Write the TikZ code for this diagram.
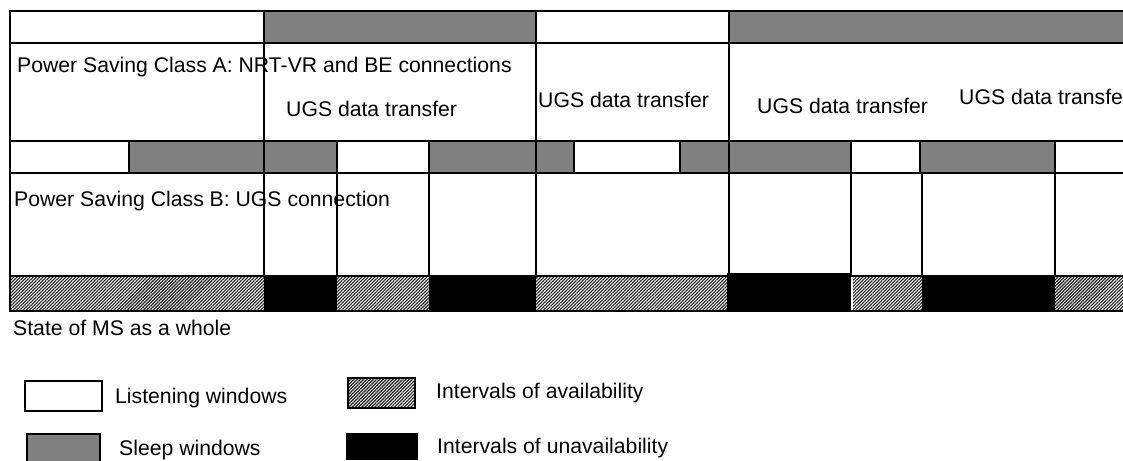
\documentclass[tikz,border=0pt]{standalone}
\usepackage{fontspec}
\setmainfont{Liberation Sans}
\usetikzlibrary{patterns.meta}
\tikzset{
  frame/.style={line width=2.4pt},
  sleepfill/.style={fill=black!50},
  hatchfill/.style={pattern={Lines[angle=45,distance=2.3pt,line width=1.1pt]},pattern color=black!90},
  unavail/.style={fill=black},
  lbl/.style={anchor=base west,inner sep=0pt,font=\fontsize{21.2}{25}\selectfont},
  legbox/.style={line width=2pt,draw=black}
}
\begin{document}
\begin{tikzpicture}[x=1pt,y=-1pt]
\useasboundingbox (0,0) rectangle (1123,460);
% sleep windows, class A band
\fill[sleepfill] (264,11) rectangle (536,43);
\fill[sleepfill] (729,11) rectangle (1123,43);
% sleep windows, class B band
\fill[sleepfill] (129,141) rectangle (337,173);
\fill[sleepfill] (429,141) rectangle (574,173);
\fill[sleepfill] (680,141) rectangle (851,173);
\fill[sleepfill] (920,141) rectangle (1055,173);
% state of MS bar
\fill[hatchfill] (10,276) rectangle (264,311);
\fill[unavail] (264,276) rectangle (337,311);
\fill[hatchfill] (337,276) rectangle (429,311);
\fill[unavail] (429,276) rectangle (536,311);
\fill[hatchfill] (536,276) rectangle (727,311);
\fill[unavail] (727,273) rectangle (851,311);
\fill[hatchfill] (853,276) rectangle (922,311);
\fill[unavail] (922,276) rectangle (1055,311);
\fill[hatchfill] (1055,276) rectangle (1123,311);
% horizontal lines
\foreach \y in {11,43,141,173,276,311} \draw[frame] (8.8,\y) -- (1124,\y);
\draw[frame] (10,11) -- (10,311);
% verticals class A
\foreach \x in {264,536,729} \draw[frame] (\x,11) -- (\x,141);
% verticals class B band
\foreach \x in {129,264,337,429,536,574,680,729,851,920,1055} \draw[frame] (\x,141) -- (\x,173);
% verticals class B body
\foreach \x in {264,337,429,536,729,851,922,1055} \draw[frame] (\x,173) -- (\x,276);
% texts
\node[lbl] (clA) at (17,72) {Power Saving Class A: NRT-VR and BE connections};
\node[lbl] (u1) at (286,116) {UGS data transfer};
\node[lbl] (u2) at (538,107) {UGS data transfer};
\node[lbl] (u3) at (757,113) {UGS data transfer};
\node[lbl] (u4) at (959,104) {UGS data transfer};
\node[lbl] (clB) at (14,206) {Power Saving Class B: UGS connection};
\node[lbl] (st) at (13,335) {State of MS as a whole};
% legend
\draw[legbox,fill=white] (25,381) rectangle (102,411);
\node[lbl] (lw) at (115,403) {Listening windows};
\draw[legbox,sleepfill] (27,434) rectangle (100,462);
\node[lbl] (sw) at (119,455) {Sleep windows};
\draw[legbox,hatchfill] (348,378) rectangle (415,408);
\node[lbl] (ia) at (436,398) {Intervals of availability};
\fill[unavail] (346,433) rectangle (418,460);
\node[lbl] (iu) at (437,453) {Intervals of unavailability};
\end{tikzpicture}
\end{document}
